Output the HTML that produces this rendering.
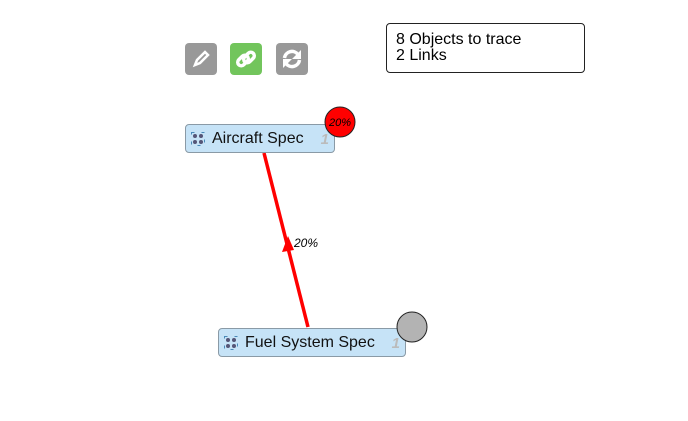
<!DOCTYPE html>
<html><head><style>
body{margin:0;width:688px;height:421px;background:#fff;position:relative;overflow:hidden;font-family:"Liberation Sans",sans-serif}
.btn{position:absolute;top:43px;width:32px;height:32px;border-radius:4px;background:#999}
.node{position:absolute;height:29px;background:#c6e3f7;border:1px solid #8a9aa6;border-radius:4px;box-sizing:border-box;font-size:16px;line-height:27px;color:#111}
.ic{position:absolute;left:5px;top:7px;width:14px;height:14px}
.num{position:absolute;right:5px;top:1px;color:#bbb;font-style:italic;font-weight:bold;font-size:15px}
</style></head><body>
<div class="btn" style="left:185px"><svg width="32" height="32"><path d="M10 22 L12 17 L20 9 L23 12 L15 20 Z" fill="none" stroke="#fff" stroke-width="2.5"/></svg></div>
<div class="btn" style="left:230px;background:#72c55c"><svg width="32" height="32"><g fill="none" stroke="#fff" stroke-width="3.5"><rect x="7" y="14" width="12" height="7" rx="3.5" transform="rotate(-45 13 17.5)"/><rect x="13" y="11" width="12" height="7" rx="3.5" transform="rotate(-45 19 14.5)"/></g></svg></div>
<div class="btn" style="left:276px"><svg width="32" height="32"><g fill="none" stroke="#fff" stroke-width="3.5"><path d="M8.5 15 A7.5 7.5 0 0 1 22 11.5"/><path d="M23.5 17 A7.5 7.5 0 0 1 10 20.5"/></g><path d="M25 7 L25 16 L16 16Z M7 25 L7 16 L16 16Z" fill="#fff"/></svg></div>
<div style="position:absolute;left:386px;top:23px;width:199px;height:50px;border:1px solid #222;border-radius:4px;box-sizing:border-box;padding:8px 0 0 9px;font-size:16px;line-height:16px;color:#000">8 Objects to trace<br>2 Links</div>
<svg style="position:absolute;left:0;top:0" width="688" height="421">
<line x1="308" y1="327" x2="264" y2="153" stroke="#f00" stroke-width="3.5"/>
<path d="M288 236 L282 252 L294 250 Z" fill="#f00"/>
<text x="294" y="247" font-size="12" font-style="italic" font-family="Liberation Sans">20%</text>
</svg>
<div class="node" style="left:185px;top:124px;width:150px"><svg class="ic"><g fill="#557"><circle cx="4" cy="4" r="2"/><circle cx="10" cy="4" r="2"/><circle cx="4" cy="10" r="2"/><circle cx="10" cy="10" r="2"/></g><rect x="0.5" y="0.5" width="13" height="13" fill="none" stroke="#4a8ab8" stroke-dasharray="3 7"/></svg><span style="position:absolute;left:26px">Aircraft Spec</span><span class="num">1</span></div>
<div class="node" style="left:218px;top:328px;width:188px"><svg class="ic"><g fill="#557"><circle cx="4" cy="4" r="2"/><circle cx="10" cy="4" r="2"/><circle cx="4" cy="10" r="2"/><circle cx="10" cy="10" r="2"/></g><rect x="0.5" y="0.5" width="13" height="13" fill="none" stroke="#4a8ab8" stroke-dasharray="3 7"/></svg><span style="position:absolute;left:26px">Fuel System Spec</span><span class="num">1</span></div>
<svg style="position:absolute;left:0;top:0" width="688" height="421">
<circle cx="340" cy="122" r="15" fill="#f00" stroke="#222"/>
<text x="340" y="126" font-size="11" font-style="italic" text-anchor="middle" font-family="Liberation Sans">20%</text>
<circle cx="412" cy="327" r="15" fill="#b3b3b3" stroke="#222"/>
</svg>
</body></html>
